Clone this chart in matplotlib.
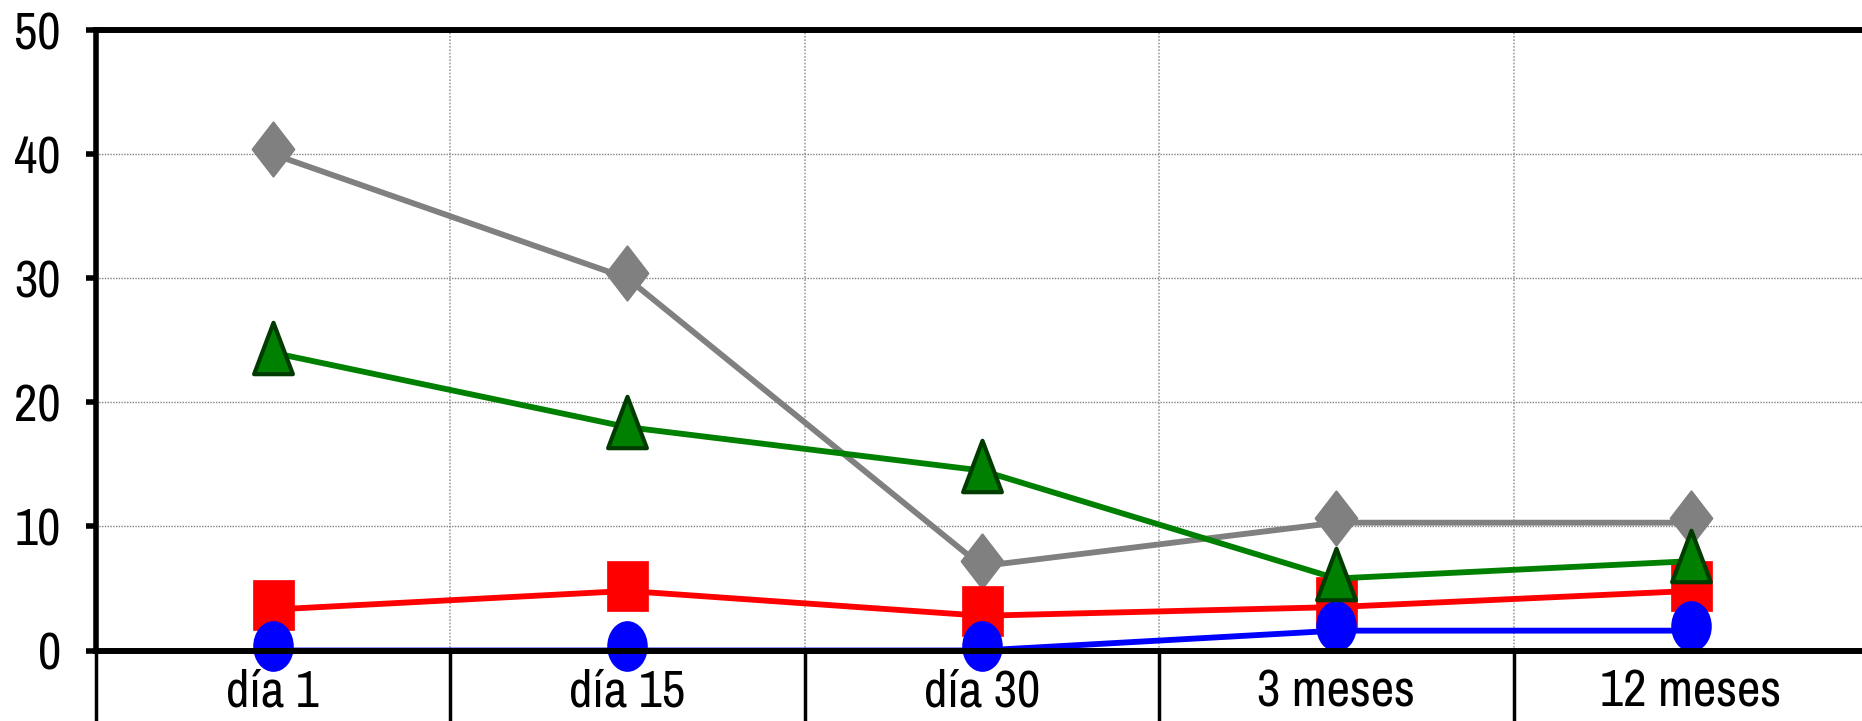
import numpy as np
import matplotlib
matplotlib.use('Agg')
import matplotlib.pyplot as plt
from matplotlib.path import Path
from matplotlib.markers import MarkerStyle
from matplotlib import transforms

plt.rcParams['font.family'] = ['Pragati Narrow', 'DejaVu Sans']

categorias = ['día 1', 'día 15', 'día 30', '3 meses', '12 meses']
serie_gris = [40, 30, 6.8, 10.3, 10.3]
serie_verde = [24, 18, 14.5, 5.8, 7.2]
serie_roja = [3.3, 4.8, 2.8, 3.5, 4.8]
serie_azul = [0, 0, 0, 1.6, 1.6]

# marker shapes, a bit taller than wide like the original
circ = Path.unit_circle()
elipse = Path(circ.vertices * [0.8, 1.0], circ.codes)
cuadrado = Path([(-0.41, -0.5), (0.41, -0.5), (0.41, 0.5), (-0.41, 0.5), (-0.41, -0.5)], closed=True)
rombo = Path([(0, 1), (0.77, 0), (0, -1), (-0.77, 0), (0, 1)], closed=True)
triangulo = Path([(0, 1), (0.755, -1), (-0.755, -1), (0, 1)], closed=True)

fig = plt.figure(figsize=(18.62, 7.21), dpi=100)
ax = fig.add_axes([95.5 / 1862, 70.5 / 721, 1772.5 / 1862, 620.5 / 721])

x = np.arange(len(categorias))
# markers sit a few pixels above the line points in the original
desplazado = transforms.offset_copy(ax.transData, fig=fig, x=0, y=5, units='dots')

series = [
    (serie_gris, '#808080', rombo, 39, '#808080', 1.5, 2.1),
    (serie_roja, '#ff0000', cuadrado, 36, '#ff0000', 0.5, 2.2),
    (serie_azul, '#0000ff', elipse, 36.5, '#0000ff', 0.0, 2.3),
    (serie_verde, '#008000', triangulo, 37, '#003c00', 3.0, 2.4),
]
for vals, color, forma, ms, borde, mew, z in series:
    ax.plot(x, vals, color=color, lw=4.2, zorder=z, clip_on=False)
    ax.plot(x, vals, ls='none', marker=MarkerStyle(forma), ms=ms, mfc=color,
            mec=borde, mew=mew, transform=desplazado, zorder=z, clip_on=False)

ax.set_xlim(-0.5, 4.5)
ax.set_ylim(0, 50)
ax.set_yticks(range(0, 51, 10))
ax.set_xticks(x, categorias)
ax.set_xticks(np.arange(-0.5, 5, 1), minor=True)

ax.tick_params(axis='y', length=7, width=4, pad=18, labelsize=40)
ax.tick_params(axis='x', which='major', length=0, pad=13, labelsize=40)
ax.tick_params(axis='x', which='minor', length=60, width=2.5, direction='out')

ax.set_axisbelow(True)
ax.grid(axis='y', which='major', color='#808080', lw=1, ls=(0, (1, 1)))
ax.grid(axis='x', which='minor', color='#a0a0a0', lw=1.2, ls=(0, (1, 1)))

ax.spines['right'].set_visible(False)
ax.spines['left'].set_linewidth(4)
ax.spines['top'].set_linewidth(4.3)
ax.spines['bottom'].set_linewidth(4.3)
for s in ax.spines.values():
    s.set_zorder(2.5)

fig.savefig('out.png', dpi=100)
